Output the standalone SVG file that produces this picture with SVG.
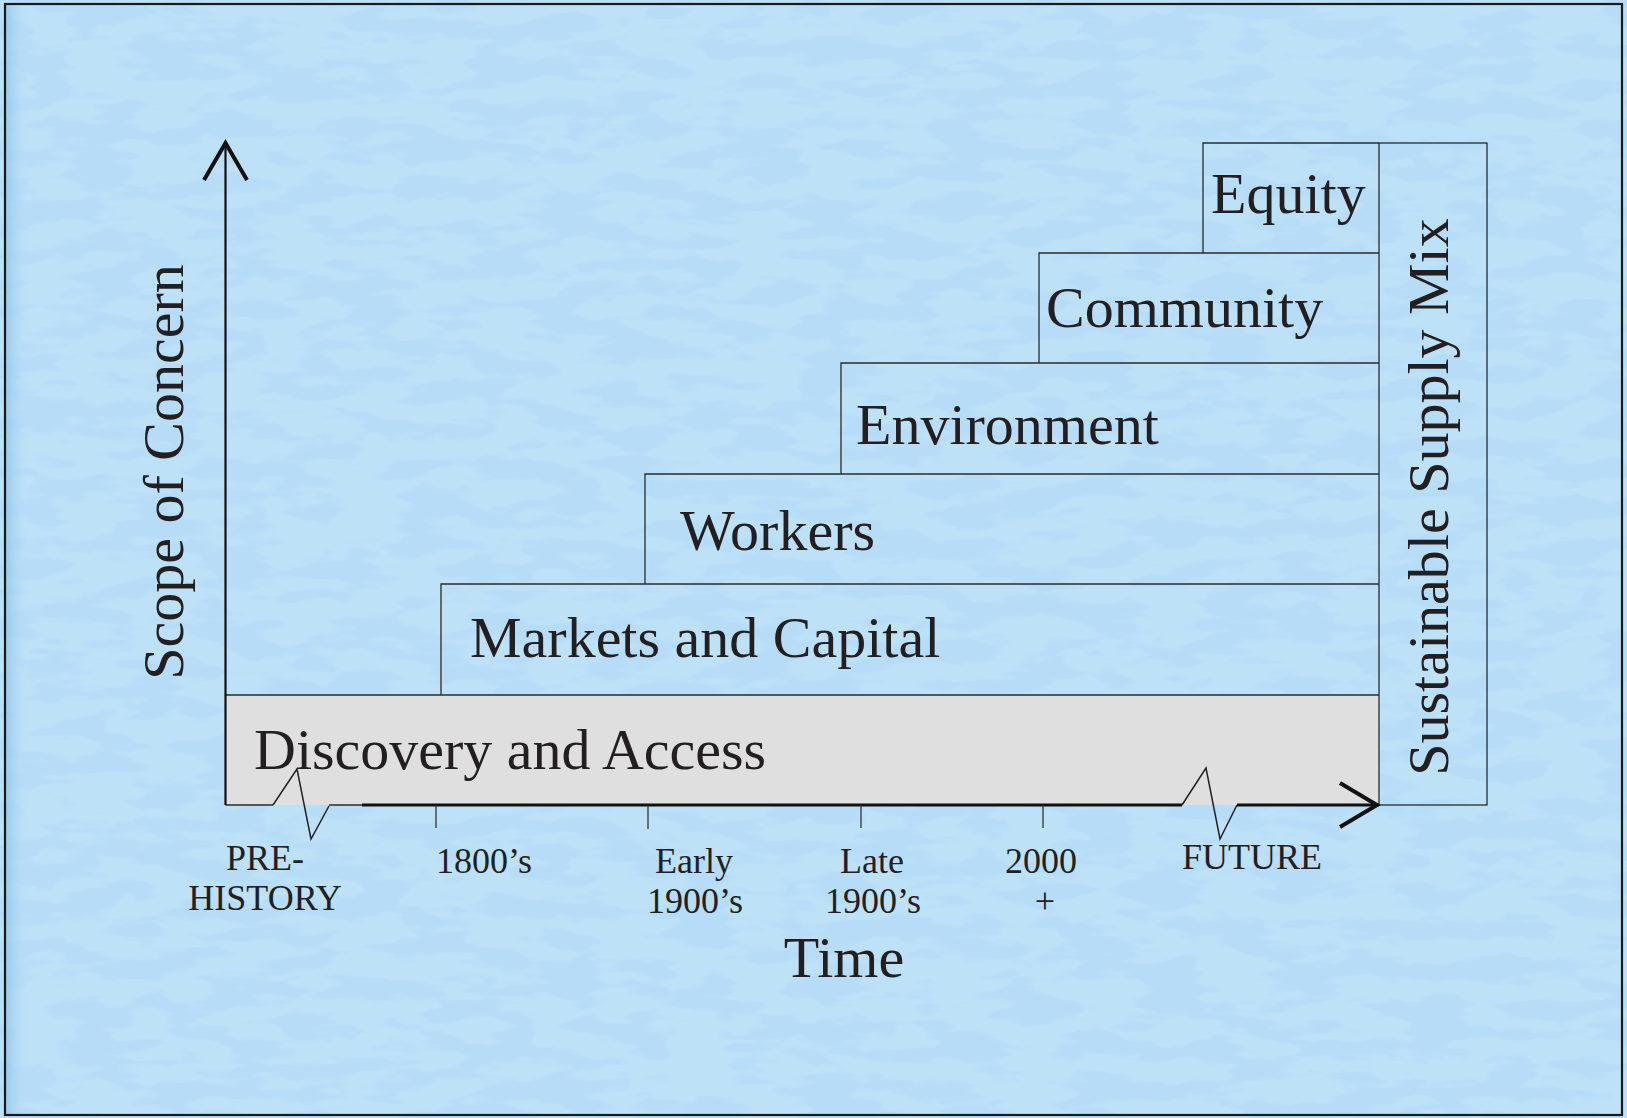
<svg xmlns="http://www.w3.org/2000/svg" width="1627" height="1118" viewBox="0 0 1627 1118">
  <defs>
    <style>
      .big { font-family: "Liberation Serif", "Times New Roman", serif; font-size: 58px; fill: #231f20; }
      .small { font-family: "Liberation Serif", "Times New Roman", serif; font-size: 36px; fill: #231f20; text-anchor: middle; }
      .box { fill: none; stroke: #2b2b2b; stroke-width: 1.3; }
      .axis { fill: none; stroke: #111; stroke-width: 2.2; }
      .thick { fill: none; stroke: #111; stroke-width: 3; }
      .head { fill: none; stroke: #111; stroke-width: 4; stroke-linecap: butt; stroke-linejoin: miter; }
      .brk { fill: none; stroke: #222; stroke-width: 1.5; stroke-linejoin: miter; }
      .tick { stroke: #333; stroke-width: 1.3; }
    </style>
    <filter id="tex" x="0" y="0" width="100%" height="100%">
      <feTurbulence type="fractalNoise" baseFrequency="0.015 0.05" numOctaves="3" seed="7" result="n"/>
      <feColorMatrix in="n" type="matrix" values="0 0 0 0 0.55  0 0 0 0 0.79  0 0 0 0 0.93  0 0 0 -9 5.2"/>
    </filter>
    <linearGradient id="edge" x1="0" x2="1" y1="0" y2="0">
      <stop offset="0" stop-color="#8fc3e8" stop-opacity="0.8"/>
      <stop offset="1" stop-color="#b6dcf8" stop-opacity="0"/>
    </linearGradient>
  </defs>

  <g id="background">
    <rect x="0" y="0" width="1627" height="1118" fill="#b6dcf8"/>
    <rect x="0" y="0" width="1627" height="1118" filter="url(#tex)" opacity="0.5"/>
    <rect x="5" y="4" width="22" height="1111" fill="url(#edge)"/>
    <rect x="5" y="4" width="1617" height="1111" fill="none" stroke="#1a1a1a" stroke-width="2.2"/>
  </g>

  <g id="node-discovery">
    <rect x="225.5" y="695" width="1153.5" height="110" fill="#dfdfdf"/>
    <path class="box" d="M225.5,695 H1379 M273,805 H225.5"/>
    <text class="big" x="254" y="769">Discovery and Access</text>
  </g>

  <g id="node-markets">
    <path class="box" d="M441,695 V584 H1379"/>
    <text class="big" x="470" y="657">Markets and Capital</text>
  </g>

  <g id="node-workers">
    <path class="box" d="M645,584 V474 H1379"/>
    <text class="big" x="680" y="550">Workers</text>
  </g>

  <g id="node-environment">
    <path class="box" d="M841,474 V363 H1379"/>
    <text class="big" x="856" y="444">Environment</text>
  </g>

  <g id="node-community">
    <path class="box" d="M1039,363 V253 H1379"/>
    <text class="big" x="1046" y="327">Community</text>
  </g>

  <g id="node-equity">
    <path class="box" d="M1203,253 V143 H1379"/>
    <text class="big" x="1211" y="213">Equity</text>
  </g>

  <g id="node-sustainable">
    <rect class="box" x="1379" y="143" width="108" height="662"/>
    <text class="big" transform="translate(1448,497) rotate(-90)" text-anchor="middle">Sustainable Supply Mix</text>
  </g>

  <g id="connectors">
    <line class="axis" x1="225.5" y1="143" x2="225.5" y2="805"/>
    <path class="head" d="M204,180 L225.5,143 L247,180"/>
    <path class="box" d="M329,805 H362"/>
    <path class="thick" d="M362,805 H1182 M1237,805 H1379"/>
    <path class="head" d="M1340,783 L1377,805 L1340,827"/>
    <path class="brk" d="M273,805 L297,769 L311,839 L329,806"/>
    <path class="brk" d="M1182,805 L1206,768 L1220,839 L1237,805" stroke-width="2.5"/>
    <line class="tick" x1="436" y1="805" x2="436" y2="828"/>
    <line class="tick" x1="648" y1="805" x2="648" y2="829"/>
    <line class="tick" x1="861" y1="805" x2="861" y2="828"/>
    <line class="tick" x1="1043" y1="805" x2="1043" y2="828"/>
  </g>

  <g id="axis-labels">
    <text class="big" transform="translate(183,472) rotate(-90)" text-anchor="middle">Scope of Concern</text>
    <text class="big" x="844" y="977" text-anchor="middle">Time</text>
  </g>

  <g id="time-labels">
    <text class="small" x="265" y="870">PRE-</text>
    <text class="small" x="265" y="910">HISTORY</text>
    <text class="small" x="484" y="873">1800’s</text>
    <text class="small" x="694" y="873">Early</text>
    <text class="small" x="695" y="913">1900’s</text>
    <text class="small" x="872" y="873">Late</text>
    <text class="small" x="873" y="913">1900’s</text>
    <text class="small" x="1041" y="873">2000</text>
    <text class="small" x="1045" y="913">+</text>
    <text class="small" x="1252" y="869">FUTURE</text>
  </g>
</svg>
